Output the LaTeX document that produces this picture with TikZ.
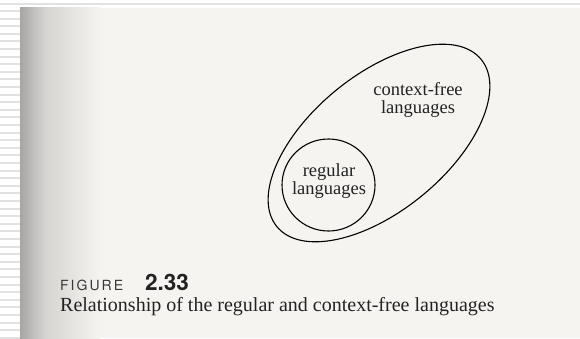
\documentclass[tikz,border=0pt]{standalone}
\usepackage{fontspec}
\setmainfont{Liberation Serif}
\newfontfamily\heros{TeX Gyre Heros}
\definecolor{pagebg}{HTML}{F5F4F1}
\definecolor{inkc}{HTML}{222222}
\definecolor{stripe}{HTML}{E1E1E1}
\definecolor{edgeA}{HTML}{A8A6A5}
\definecolor{edgeB}{HTML}{D6D4D1}
\tikzset{
  lbl/.style={text=inkc, align=center, font=\fontsize{18.5}{18}\selectfont, inner sep=0pt},
  setline/.style={draw=black, line width=1.1pt},
}
\begin{document}
\begin{tikzpicture}[x=1pt,y=1pt]
\useasboundingbox (0,0) rectangle (580,338);
\fill[white] (0,0) rectangle (580,338);
% top line
\fill[stripe] (0,333) rectangle (580,335);
% left stripes
\foreach \i in {0,...,43} {
  \fill[stripe] (0,{328-7.6*\i}) rectangle (20,{326-7.6*\i});
}
% page
\fill[pagebg] (20,0) rectangle (580,330);
\shade[left color=edgeA, right color=edgeB] (20,0) rectangle (45,330);
\shade[left color=edgeB, right color=pagebg] (45,0) rectangle (100,330);
% sets
\draw[setline, rotate around={39.3:(379,195)}] (379,195) ellipse [x radius=132, y radius=68];
\draw[setline] (328.5,153) ellipse [x radius=46.5, y radius=46];
\node[lbl] (cfl) at (418,238) {context-free\\languages};
\node[lbl] (reg) at (329,157) {regular\\languages};
% caption
\node[anchor=base west, inner sep=0pt, text=inkc!90!white, font=\heros\fontsize{14}{14}\selectfont] (fig) at (60,48) {F\kern2pt I\kern2pt G\kern2pt U\kern2pt R\kern2pt E};
\node[anchor=base west, inner sep=0pt, text=inkc, font=\heros\bfseries\fontsize{22.5}{22}\selectfont] (num) at (145,48) {2.33};
\node[anchor=base west, inner sep=0pt, text=inkc, font=\fontsize{20}{20}\selectfont] (cap) at (60,27) {Relationship of the regular and context-free languages};
\end{tikzpicture}
\end{document}
